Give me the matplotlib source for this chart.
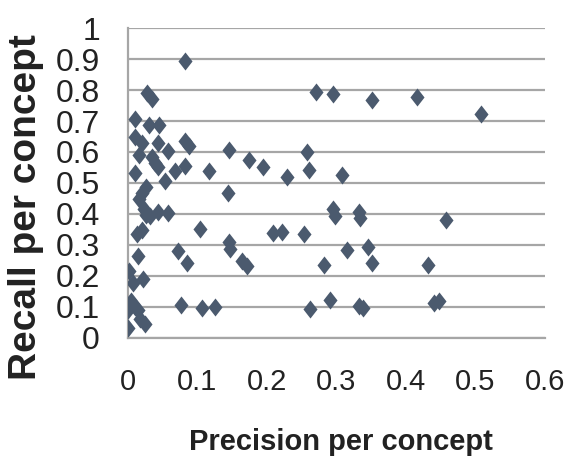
import numpy as np
import matplotlib.pyplot as plt
from matplotlib.path import Path

# precision / recall per concept
precision = [0.083, 0.028, 0.035, 0.011, 0.030, 0.045, 0.010, 0.021, 0.044, 0.082,
             0.088, 0.058, 0.017, 0.035, 0.146, 0.175, 0.194, 0.229, 0.258, 0.261,
             0.308, 0.271, 0.295, 0.352, 0.416, 0.509, 0.011, 0.040, 0.044, 0.068,
             0.082, 0.117, 0.054, 0.027, 0.020, 0.017, 0.145, 0.023, 0.026, 0.032,
             0.044, 0.058, 0.013, 0.021, 0.104, 0.295, 0.298, 0.333, 0.334, 0.458,
             0.209, 0.222, 0.253, 0.146, 0.147, 0.316, 0.346, 0.352, 0.282, 0.432,
             0.164, 0.171, 0.072, 0.086, 0.015, 0.002, 0.008, 0.022, 0.005, 0.011,
             0.001, 0.015, 0.018, 0.025, 0.001, 0.077, 0.107, 0.125, 0.262, 0.291,
             0.333, 0.339, 0.441, 0.448]
recall = [0.895, 0.790, 0.770, 0.708, 0.687, 0.687, 0.648, 0.628, 0.630, 0.636,
          0.620, 0.604, 0.590, 0.585, 0.606, 0.574, 0.552, 0.520, 0.601, 0.542,
          0.525, 0.795, 0.788, 0.768, 0.779, 0.722, 0.531, 0.563, 0.550, 0.540,
          0.556, 0.539, 0.506, 0.488, 0.466, 0.448, 0.466, 0.415, 0.395, 0.392,
          0.407, 0.402, 0.335, 0.348, 0.352, 0.415, 0.392, 0.405, 0.385, 0.380,
          0.338, 0.342, 0.336, 0.310, 0.285, 0.284, 0.294, 0.241, 0.234, 0.234,
          0.246, 0.230, 0.280, 0.240, 0.265, 0.214, 0.177, 0.190, 0.118, 0.100,
          0.089, 0.090, 0.060, 0.043, 0.030, 0.104, 0.096, 0.100, 0.091, 0.121,
          0.102, 0.094, 0.113, 0.119]

xticks = [0, 0.1, 0.2, 0.3, 0.4, 0.5, 0.6]
yticks = [0, 0.1, 0.2, 0.3, 0.4, 0.5, 0.6, 0.7, 0.8, 0.9, 1]

# slightly tall diamond, like the Excel marker
diamond = Path([(0, 1), (0.78, 0), (0, -1), (-0.78, 0), (0, 1)],
               [Path.MOVETO, Path.LINETO, Path.LINETO, Path.LINETO, Path.CLOSEPOLY])

fig = plt.figure(figsize=(5.69, 4.58), dpi=100)
ax = fig.add_axes([0.2244, 0.2631, 0.9573 - 0.2244, 0.9382 - 0.2631])

ax.plot(precision, recall, linestyle='none', marker=diamond, markersize=13,
        color='#4b5a6e', markeredgewidth=0, zorder=3)

ax.set_xlim(0, 0.6)
ax.set_ylim(0, 1)
ax.set_xticks(xticks)
ax.set_yticks(yticks)
ax.set_xticklabels([f'{t:g}' for t in xticks], fontfamily='Liberation Sans', fontsize=21)
ax.set_yticklabels([f'{t:g}' for t in yticks], fontfamily='Liberation Sans', fontsize=23)
ax.tick_params(axis='x', length=0, pad=22, colors='#222222')
ax.tick_params(axis='y', length=0, pad=20, colors='#222222')

ax.grid(True, axis='y', color='#a6a6a6', linewidth=1.6)
ax.set_axisbelow(True)
for s in ['top', 'right']:
    ax.spines[s].set_visible(False)
for s in ['left', 'bottom']:
    ax.spines[s].set_color('#a6a6a6')
    ax.spines[s].set_linewidth(1.6)

fig.text(341 / 569, 1 - 450 / 458, 'Precision per concept', ha='center', va='baseline',
         fontfamily='Liberation Sans', fontweight='bold', fontsize=21, color='#222222')
fig.text(26 / 569, 1 - 207 / 458, 'Recall per concept', rotation=90, ha='center',
         va='center', fontfamily='Liberation Sans', fontweight='bold', fontsize=28,
         color='#222222')

fig.savefig('out.png', dpi=100)
